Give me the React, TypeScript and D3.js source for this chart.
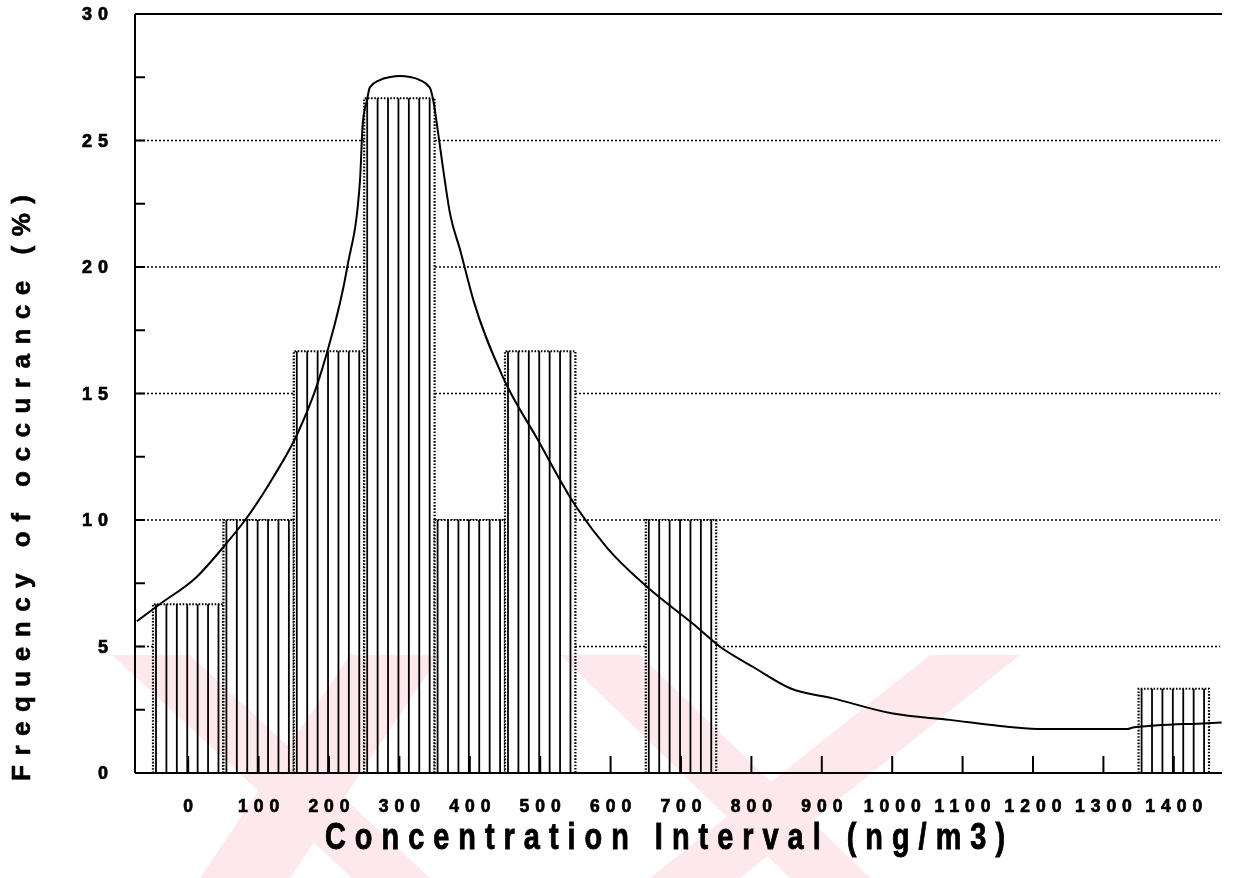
import React from "react";
import * as d3 from "d3";

// ---- data ----
const categories = [0, 100, 200, 300, 400, 500, 600, 700, 800, 900, 1000, 1100, 1200, 1300, 1400];
const frequency = [6.67, 10, 16.67, 26.67, 10, 16.67, 0, 10, 0, 0, 0, 0, 0, 0, 3.33];

// fitted curve (concentration, frequency %)
const curveConc = [-73, -40, 12, 55, 81, 121, 155, 185, 197, 226, 244, 248, 254, 258, 272, 287, 301, 315, 329, 343, 348, 353, 361, 372, 386, 405, 447, 496, 547, 595, 652, 717, 755, 802, 855, 916, 1001, 1082, 1153, 1214, 1334, 1342, 1447, 1468];
const curveFreq = [6.0, 6.68, 7.75, 9.1, 10.0, 11.7, 13.4, 15.5, 16.6, 20.0, 23.4, 25.7, 26.6, 27.1, 27.39, 27.51, 27.55, 27.51, 27.39, 27.1, 26.6, 25.7, 24.1, 22.1, 20.7, 18.7, 15.65, 13.2, 10.7, 8.9, 7.35, 5.9, 5.0, 4.2, 3.35, 2.95, 2.35, 2.1, 1.86, 1.74, 1.74, 1.8, 1.97, 2.0];

const yTicks = [0, 5, 10, 15, 20, 25, 30];
const yMinorTicks = [2.5, 7.5, 12.5, 17.5, 22.5, 27.5];
const gridValues = [5, 10, 15, 20, 25];

const xTitle = "Concentration Interval (ng/m3)";
const yTitle = "Frequency of occurance (%)";

// decorative watermark stripes (pink, from the scanned page)
const watermarkStripes = [
  [[112, 655], [190, 655], [430, 878], [352, 878]],
  [[350, 655], [440, 655], [290, 878], [200, 878]],
  [[560, 655], [640, 655], [870, 878], [790, 878]],
  [[930, 655], [1020, 655], [740, 878], [650, 878]],
];

export default function App() {
  const W = 1233;
  const H = 878;
  const axisX = 135;
  const rightX = 1222;
  const topY = 14;
  const bottomY = 773;

  const x = d3
    .scaleBand<string>()
    .domain(categories.map(String))
    .range([153, 1209])
    .padding(0);
  const bw = x.bandwidth();
  const xc = (c: number) => (x(String(c)) as number) + bw / 2;
  const xLin = d3.scaleLinear().domain([0, 1400]).range([xc(0), xc(1400)]);
  const y = d3.scaleLinear().domain([0, 30]).range([bottomY, topY]);

  const line = d3
    .line<number>()
    .x((_, i) => xLin(curveConc[i]))
    .y((d) => y(d))
    .curve(d3.curveMonotoneX);

  const font = "'Liberation Sans', Arial, Helvetica, sans-serif";
  const hatchCount = 7;
  const titleScale = 0.78;

  return (
    <svg width={W} height={H} viewBox={`0 0 ${W} ${H}`} style={{ display: "block", position: "absolute", left: 0, top: 0, background: "#fff" }}>
      <rect x={0} y={0} width={W} height={H} fill="#fff" />

      {/* dotted gridlines */}
      {gridValues.map((v) => (
        <line key={v} x1={axisX + 4} x2={rightX - 2} y1={y(v)} y2={y(v)} stroke="#000" strokeWidth={1.6} strokeDasharray="2 2" />
      ))}

      {/* bars */}
      {categories.map((c, i) => {
        const v = frequency[i];
        if (!v) return null;
        const x0 = x(String(c)) as number;
        const yt = y(v);
        const hatch = d3.range(hatchCount).map((k) => x0 + 3 + (k * (bw - 6)) / (hatchCount - 1) * 0.97);
        return (
          <g key={c}>
            <rect x={x0} y={yt} width={bw} height={bottomY - yt} fill="#fff" />
            {hatch.map((hx, k) => (
              <line key={k} x1={hx} x2={hx} y1={yt} y2={bottomY} stroke="#000" strokeWidth={1.8} />
            ))}
            <path
              d={`M${x0},${bottomY}V${yt}H${x0 + bw}V${bottomY}`}
              fill="none"
              stroke="#000"
              strokeWidth={2.2}
              strokeDasharray="1.6 1.6"
            />
          </g>
        );
      })}

      {/* x ticks */}
      {categories.map((c) => (
        <line key={c} x1={xc(c)} x2={xc(c)} y1={bottomY} y2={bottomY - 17} stroke="#000" strokeWidth={2} />
      ))}

      {/* axes */}
      <line x1={axisX} x2={axisX} y1={topY} y2={bottomY} stroke="#000" strokeWidth={2} />
      <line x1={axisX} x2={rightX} y1={bottomY} y2={bottomY} stroke="#000" strokeWidth={2.2} />
      <line x1={axisX} x2={rightX} y1={topY} y2={topY} stroke="#000" strokeWidth={2} />
      {[...yTicks, ...yMinorTicks].map((t) => (
        <line key={t} x1={axisX} x2={axisX + 10} y1={y(t)} y2={y(t)} stroke="#000" strokeWidth={2} />
      ))}

      {/* curve */}
      <path d={line(curveFreq) as string} fill="none" stroke="#000" strokeWidth={2} />

      {/* y tick labels */}
      {yTicks.map((t) => (
        <text
          key={t}
          x={108 + 6}
          y={y(t)}
          dy="0.36em"
          textAnchor="end"
          fontFamily={font}
          fontWeight="bold"
          fontSize={18}
          letterSpacing={6}
          stroke="#000"
          strokeWidth={0.7}
          fill="#000"
        >
          {t}
        </text>
      ))}

      {/* x tick labels */}
      {categories.map((c) => (
        <text
          key={c}
          x={xc(c) + 3}
          y={812}
          textAnchor="middle"
          fontFamily={font}
          fontWeight="bold"
          fontSize={17.5}
          letterSpacing={6}
          stroke="#000"
          strokeWidth={0.7}
          fill="#000"
        >
          {c}
        </text>
      ))}

      {/* axis titles */}
      <g transform={`scale(${titleScale},1)`}>
        <text
          x={325 / titleScale}
          y={849}
          fontFamily={font}
          fontWeight="bold"
          fontSize={37}
          textLength={680 / titleScale}
          lengthAdjust="spacing"
          stroke="#000"
          strokeWidth={0.9}
          fill="#000"
        >
          {xTitle}
        </text>
      </g>
      <text
        transform="translate(30,781) rotate(-90)"
        x={0}
        y={0}
        fontFamily={font}
        fontWeight="bold"
        fontSize={26}
        textLength={586}
        lengthAdjust="spacing"
        stroke="#000"
        strokeWidth={0.6}
        fill="#000"
      >
        {yTitle}
      </text>

      {/* watermark, multiplied over the page */}
      <g fill="#fde9ed" style={{ mixBlendMode: "multiply" }}>
        {watermarkStripes.map((p, i) => (
          <polygon key={i} points={p.map((q) => q.join(",")).join(" ")} />
        ))}
      </g>
    </svg>
  );
}
